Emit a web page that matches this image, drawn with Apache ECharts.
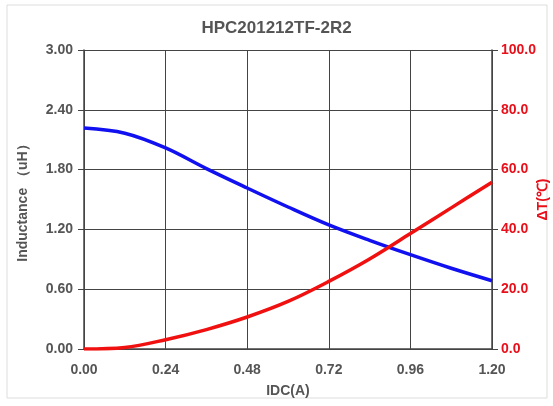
<!DOCTYPE html>
<html><head><meta charset="utf-8">
<script src="https://cdn.jsdelivr.net/npm/echarts@6/dist/echarts.min.js"></script>
<style>html,body{margin:0;padding:0;background:#fff}#c{width:553px;height:406px}</style>
</head><body><div id="c"></div>
<script>
var idc = [0, 0.12, 0.24, 0.36, 0.48, 0.60, 0.72, 0.84, 0.96, 1.08, 1.20];
var inductance = [2.217, 2.165, 2.017, 1.81, 1.615, 1.425, 1.245, 1.09, 0.946, 0.81, 0.685];
var deltaT = [0, 0.5, 3.1, 6.5, 10.7, 15.9, 22.6, 30.1, 38.6, 47.2, 55.8];
var title = 'HPC201212TF-2R2';

var chart = echarts.init(document.getElementById('c'));
var gray = '#555';
var font = 'Liberation Sans';
chart.setOption({
  animation: false,
  graphic: [{type:'rect', shape:{x:7,y:5,width:540,height:393}, style:{fill:'none', stroke:'#ddd', lineWidth:1}}],
  title: {text: title, left: 'center', top: 15, textStyle:{fontFamily:font, fontSize:17, fontWeight:'bold', color:gray}},
  grid: {left: 84, right: 61, top: 50, bottom: 57, containLabel:false, outerBoundsMode:'none'},
  xAxis: {type:'value', min:0, max:1.2, interval:0.24,
    name:'IDC(A)', nameLocation:'middle', nameGap:35, nameMoveOverlap:false,
    nameTextStyle:{fontFamily:font, fontSize:14, color:gray, fontWeight:'bold'},
    axisLine:{lineStyle:{color:'#444', width:1.5}}, axisTick:{show:false},
    axisLabel:{formatter:function(v){return v.toFixed(2);}, fontFamily:font, fontSize:14, fontWeight:'bold', color:gray, margin:14},
    splitLine:{show:true, lineStyle:{color:'#444', width:1}}},
  yAxis: [
    {type:'value', min:0, max:3, interval:0.6, position:'left',
     name:'Inductance （uH）', nameLocation:'middle', nameGap:54, nameRotate:90, nameMoveOverlap:false,
     nameTextStyle:{fontFamily:font, fontSize:14, color:gray, fontWeight:'bold'},
     axisLine:{show:true, lineStyle:{color:'#444', width:1.5}}, axisTick:{show:true, length:6, lineStyle:{color:'#444'}},
     axisLabel:{formatter:function(v){return v.toFixed(2);}, fontFamily:font, fontSize:14, fontWeight:'bold', color:gray, margin:11},
     splitLine:{show:true, lineStyle:{color:'#444', width:1}}},
    {type:'value', min:0, max:100, interval:20, position:'right',
     name:'ΔT(℃)', nameLocation:'middle', nameGap:44, nameRotate:90, nameMoveOverlap:false,
     nameTextStyle:{fontFamily:font, fontSize:14, color:'#e8101a', fontWeight:'bold'},
     axisLine:{show:true, lineStyle:{color:'#444', width:1.5}}, axisTick:{show:true, length:6, lineStyle:{color:'#444'}},
     axisLabel:{formatter:function(v){return v.toFixed(1);}, fontFamily:font, fontSize:14, fontWeight:'bold', color:'#e8101a', margin:9},
     splitLine:{show:false}}
  ],
  series: [
    {type:'line', yAxisIndex:0, smooth:0.35, symbol:'none', data: idc.map(function(x,i){return [x, inductance[i]];}),
     lineStyle:{color:'#1010f0', width:3.5}},
    {type:'line', yAxisIndex:1, smooth:0.35, symbol:'none', data: idc.map(function(x,i){return [x, deltaT[i]];}),
     lineStyle:{color:'#f01010', width:3.5}}
  ]
});
</script></body></html>
